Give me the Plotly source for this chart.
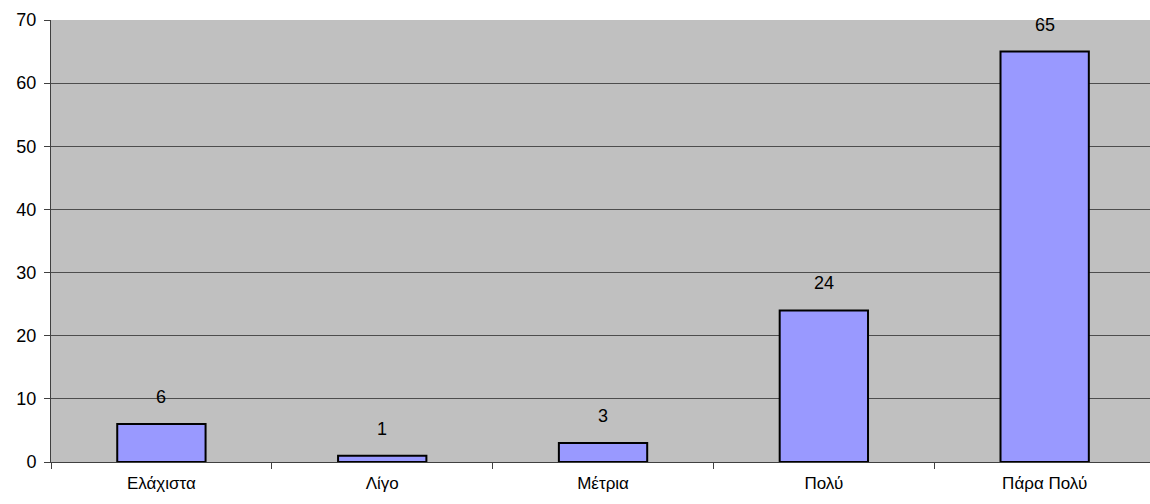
import plotly.graph_objects as go

categories = ["Ελάχιστα", "Λίγο", "Μέτρια", "Πολύ", "Πάρα Πολύ"]
values = [6, 1, 3, 24, 65]
y_ticks = [0, 10, 20, 30, 40, 50, 60, 70]

fig = go.Figure()
fig.add_trace(go.Bar(
    x=categories, y=values,
    marker=dict(color="#9999FF", line=dict(color="#000000", width=2)),
    width=0.4,
))
for c, v in zip(categories, values):
    fig.add_annotation(x=c, y=v, text=str(v), showarrow=False, yshift=27,
                       font=dict(size=18, color="#000000"))

fig.update_layout(
    width=1150, height=504,
    margin=dict(l=51, r=0, t=20, b=42),
    paper_bgcolor="#FFFFFF", plot_bgcolor="#C0C0C0",
    font=dict(family="Liberation Sans, Arial, sans-serif", size=18, color="#000000"),
    showlegend=False,
)
fig.update_xaxes(
    range=[-0.5, 4.477], tickson="boundaries", ticks="outside", ticklen=6,
    tickcolor="#404040", showline=True, linecolor="#404040", linewidth=1,
    showgrid=False, ticklabelstandoff=6, tickfont=dict(size=17),
)
fig.update_yaxes(
    range=[0, 70], tickvals=y_ticks, ticks="outside", ticklen=6,
    tickcolor="#404040", showline=True, linecolor="#404040", linewidth=1,
    showgrid=True, gridcolor="#4d4d4d", gridwidth=1, zeroline=False,
    tickfont=dict(size=18), ticklabelstandoff=4,
)
fig.write_html("out.html", config={"displayModeBar": False},
               post_script="document.body.style.margin='0';document.body.style.overflow='hidden';")
